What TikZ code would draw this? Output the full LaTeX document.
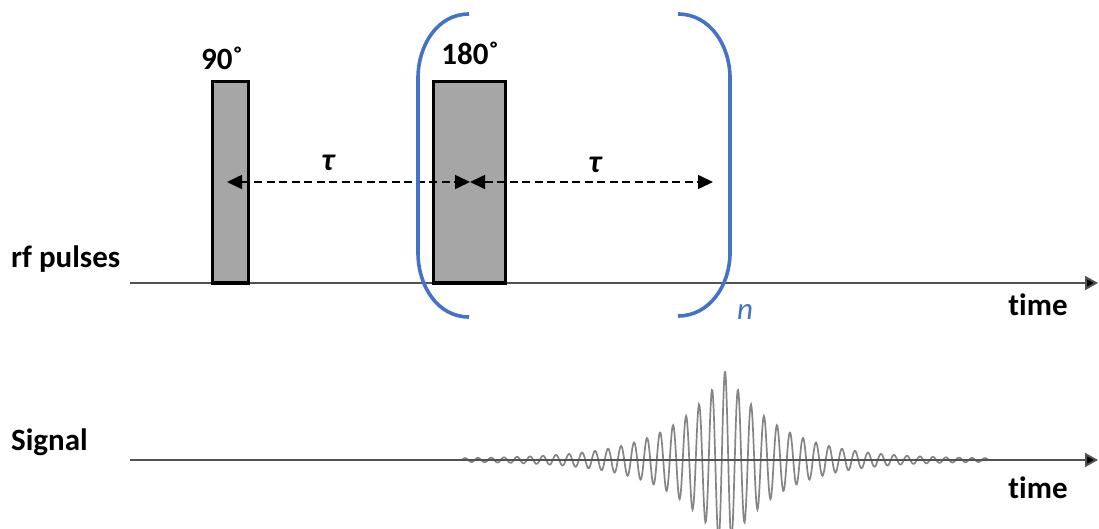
\documentclass[tikz,border=0pt]{standalone}
\usepackage{fontspec}
\setmainfont{Carlito}[Ligatures=NoCommon]
\usepackage{xcolor}
\usetikzlibrary{arrows.meta,positioning,calc}
\definecolor{loopblue}{HTML}{4472C4}

\begin{document}
\begin{tikzpicture}[
    x=1pt, y=-1pt,
    lbl/.style={font=\bfseries\fontsize{31}{34}\selectfont, inner sep=0pt},
    taulbl/.style={font=\bfseries\itshape\fontsize{32}{34}\selectfont, inner sep=0pt},
    pulse/.style={draw=black, line width=3.6pt, fill=black!35, inner sep=0pt,
        outer sep=0pt, anchor=south west},
    axis/.style={line width=2pt, draw=black!68,
        -{Triangle[length=13pt, width=14pt, fill=black]}},
    span/.style={line width=1.6pt, dash pattern=on 8pt off 4.5pt,
        {Triangle[length=15pt, width=14pt]}-{Triangle[length=15pt, width=14pt]}},
    loop/.style={line width=3.6pt, draw=loopblue},
    echo/.style={line width=1.7pt, draw=black!48}
]
    \useasboundingbox (0,0) rectangle (1099,529);

    % axes
    \coordinate (rf0) at (130,283);
    \coordinate (rf1) at (1098,283);
    \coordinate (sg0) at (130,460);
    \coordinate (sg1) at (1098,460);
    \draw[axis] (rf0) -- (rf1);

    % echo signal
    \begin{scope}
        \clip (0,0) rectangle (1099,529);
        \draw[echo] plot[domain=462:988, samples=900]
            (\x, {460-(88*exp(-abs(\x-725)/54)+1.2)*cos(27.6923*(\x-725))});
    \end{scope}
    \draw[axis] (sg0) -- (sg1);

    \node[lbl, anchor=base west] (rflbl) at (11,267) {rf pulses};
    \node[lbl, anchor=base west] (siglbl) at (11,450) {Signal};
    \node[lbl, anchor=base] (time1) at (1038,315) {time};
    \node[lbl, anchor=base] (time2) at (1038,498) {time};

    % pulses
    \node[pulse, minimum width=36pt, minimum height=201.5pt] (p90) at (212.5,283) {};
    \node[pulse, minimum width=72pt, minimum height=201.5pt] (p180) at (433.5,283) {};
    \node[lbl, anchor=base] (l90) at (222,70) {90˚};
    \node[lbl, anchor=base] (l180) at (470,65) {180˚};

    % delays
    \coordinate (d0) at (227,182);
    \coordinate (dm) at (470,182);
    \coordinate (d1) at (713,182);
    \draw[span] (d0) -- (dm);
    \draw[span] (dm) -- (d1);
    \node[taulbl] (tau1) at (328,163) {τ};
    \node[taulbl] (tau2) at (595,165) {τ};

    % repeat brackets
    \coordinate (bl0) at (469,14);
    \coordinate (bl1) at (469,317);
    \coordinate (br0) at (678,14);
    \coordinate (br1) at (678,316);
    \draw[loop] (bl0) to[out=180, in=90] (418,78) -- (418,253) to[out=-90, in=180] (bl1);
    \draw[loop] (br0) to[out=0, in=90] (730,78) -- (730,253) to[out=-90, in=0] (br1);
    \node[font=\itshape\fontsize{31}{34}\selectfont, text=loopblue, inner sep=0pt,
        anchor=base] (nrep) at (745,319) {n};
\end{tikzpicture}
\end{document}
